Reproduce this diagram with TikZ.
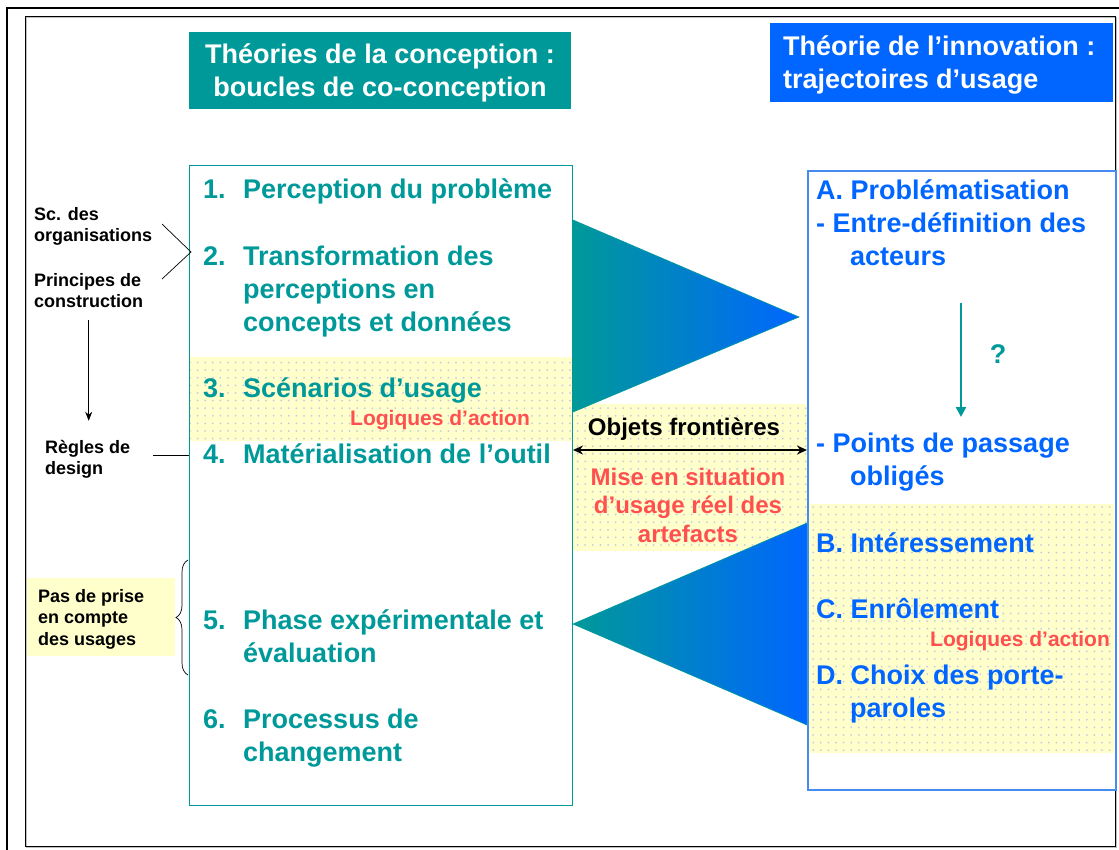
\documentclass[tikz,border=0pt]{standalone}
\usepackage{fontspec}
\setmainfont{Liberation Sans}
\usetikzlibrary{arrows.meta, calc, positioning, decorations.pathreplacing, patterns.meta}

\definecolor{teal1}{RGB}{0,153,153}
\definecolor{blue1}{RGB}{0,102,255}
\definecolor{frameblue}{RGB}{70,140,240}
\definecolor{red1}{RGB}{255,80,80}
\definecolor{pale}{RGB}{255,255,204}
\definecolor{dotc}{RGB}{200,200,228}
\newcommand{\rows}[1]{\begin{tabular}[t]{@{}l@{}}#1\end{tabular}}
\newcommand{\crows}[1]{\begin{tabular}[t]{@{}c@{}}#1\end{tabular}}

\begin{document}
\begin{tikzpicture}[x=1pt, y=-1pt, >=Stealth,
  big/.style={inner sep=0pt, anchor=base west, font=\fontsize{27}{33}\selectfont\bfseries},
  small/.style={inner sep=0pt, anchor=base west, font=\fontsize{18}{21.5}\selectfont\bfseries},
  mid/.style={inner sep=0pt, anchor=base, font=\fontsize{24}{28.5}\selectfont\bfseries},
  logic/.style={inner sep=0pt, anchor=base west, text=red1, font=\fontsize{21}{25}\selectfont\bfseries},
  band/.style={preaction={fill=pale}, pattern={Dots[distance=7.6pt, radius=1pt]}, pattern color=dotc}]
  \useasboundingbox (0,0) rectangle (1119,849);
  % frames
  \draw[line width=2.7pt] (7,8) rectangle (1140,870);
  \draw[gray!50, line width=1.2pt] (26.5,17.5) rectangle (1116.5,847.5);
  \draw[line width=0.8pt] (25,16) rectangle (1115,846);

  % titles
  \node[fill=teal1, minimum width=382, minimum height=77, anchor=north west, inner sep=0pt] (titleL) at (189,32) {};
  \node[big, anchor=base, text=white] (titleLtxt) at (380,63) {\crows{Théories de la conception :\\boucles de co-conception}};
  \node[fill=blue1, minimum width=343, minimum height=79, anchor=north west, inner sep=0pt] (titleR) at (770,23) {};
  \node[big, text=white] (titleRtxt) at (783,55) {\rows{Théorie de l’innovation :\\trajectoires d’usage}};

  % dotted bands
  \fill[band] (189,357) rectangle (572,441);
  \fill[band] (572,404) rectangle (807,551);
  \fill[band] (807,504) rectangle (1114,753);
  \fill[pale] (27,578) rectangle (175,656);

  % wedges
  \shade[left color=teal1, right color=blue1, draw=teal1, line width=0.6pt] (573,220) -- (573,412) -- (799,317) -- cycle;
  \shade[left color=teal1, right color=blue1, draw=teal1, line width=0.6pt] (573,624) -- (807,523) -- (807,725) -- cycle;

  % boxes
  \node[draw=teal1, line width=1pt, minimum width=383, minimum height=640, anchor=north west, inner sep=0pt] (leftbox) at (189,165) {};
  \node[draw=frameblue, line width=1.5pt, minimum width=308, minimum height=619, anchor=north west, inner sep=0pt] (rightbox) at (807,170) {};

  % left column
  \node[big, text=teal1] (n1) at (203,198) {1.};
  \node[big, text=teal1] (t1) at (243,198) {Perception du problème};
  \node[big, text=teal1] (n2) at (203,265) {2.};
  \node[big, text=teal1] (t2) at (243,265) {\rows{Transformation des\\perceptions en\\concepts et données}};
  \node[big, text=teal1] (n3) at (203,397) {3.};
  \node[big, text=teal1] (t3) at (243,397) {Scénarios d’usage};
  \node[logic] (logL) at (350,425) {Logiques d’action};
  \node[big, text=teal1] (n4) at (203,463) {4.};
  \node[big, text=teal1] (t4) at (243,463) {Matérialisation de l’outil};
  \node[big, text=teal1] (n5) at (203,629) {5.};
  \node[big, text=teal1] (t5) at (243,629) {\rows{Phase expérimentale et\\évaluation}};
  \node[big, text=teal1] (n6) at (203,728) {6.};
  \node[big, text=teal1] (t6) at (243,728) {\rows{Processus de\\changement}};

  % side notes
  \node[small] (sco) at (34,220) {\rows{Sc. des\\organisations}};
  \node[small] (princ) at (34,286) {\rows{Principes de\\construction}};
  \node[small] (regles) at (45,453) {\rows{Règles de\\design}};
  \node[small] (pas) at (38,602) {\rows{Pas de prise\\en compte\\des usages}};
  \coordinate (scoend) at (162,224);
  \coordinate (princend) at (162,279);
  \coordinate (hook) at (191,252);
  \draw[line width=0.7pt] (scoend) -- (hook) -- (princend);
  \draw[line width=0.8pt, -{Stealth[length=9pt, width=7pt]}, shorten <=6pt, shorten >=17pt] (princ.south) -- (princ.south |- regles.north);
  \draw[line width=0.7pt] ([xshift=23pt, yshift=4pt]regles.east) -- ([yshift=4pt]regles.east -| leftbox.west);
  \coordinate (brbot) at (188,675);
  \coordinate (brtop) at (188,560);
  \draw[line width=0.7pt, decorate, decoration={brace, amplitude=12pt}] (brbot) -- (brtop);

  % middle
  \node[mid] (obj) at (684,435) {Objets frontières};
  \coordinate (ofy) at (0,450);
  \draw[{Stealth[length=10pt, width=9pt]}-{Stealth[length=10pt, width=9pt]}, line width=1.6pt] (leftbox.east |- ofy) -- (rightbox.west |- ofy);
  \node[mid, text=red1] (mise) at (688,485) {\crows{Mise en situation\\d’usage réel des\\artefacts}};

  % right column
  \node[big, text=blue1] (pa) at (816,199) {A. Problématisation};
  \node[big, text=blue1] (pe) at (816,232) {- Entre-définition des};
  \node[big, text=blue1] (pac) at (850,265) {acteurs};
  \coordinate (qtop) at (961,303);
  \coordinate (qbot) at (961,417);
  \draw[teal1, line width=2.5pt, -{Triangle[length=10pt, width=10pt]}] (qtop) -- (qbot);
  \node[big, anchor=base, text=teal1] (q) at (998,363) {?};
  \node[big, text=blue1] (pp) at (816,452) {- Points de passage};
  \node[big, text=blue1] (po) at (850,485) {obligés};
  \node[big, text=blue1] (pb) at (816,552) {B. Intéressement};
  \node[big, text=blue1] (pc) at (816,618) {C. Enrôlement};
  \node[logic] (logR) at (930,646) {Logiques d’action};
  \node[big, text=blue1] (pd) at (816,684) {D. Choix des porte-};
  \node[big, text=blue1] (pparo) at (850,717) {paroles};
\end{tikzpicture}
\end{document}
